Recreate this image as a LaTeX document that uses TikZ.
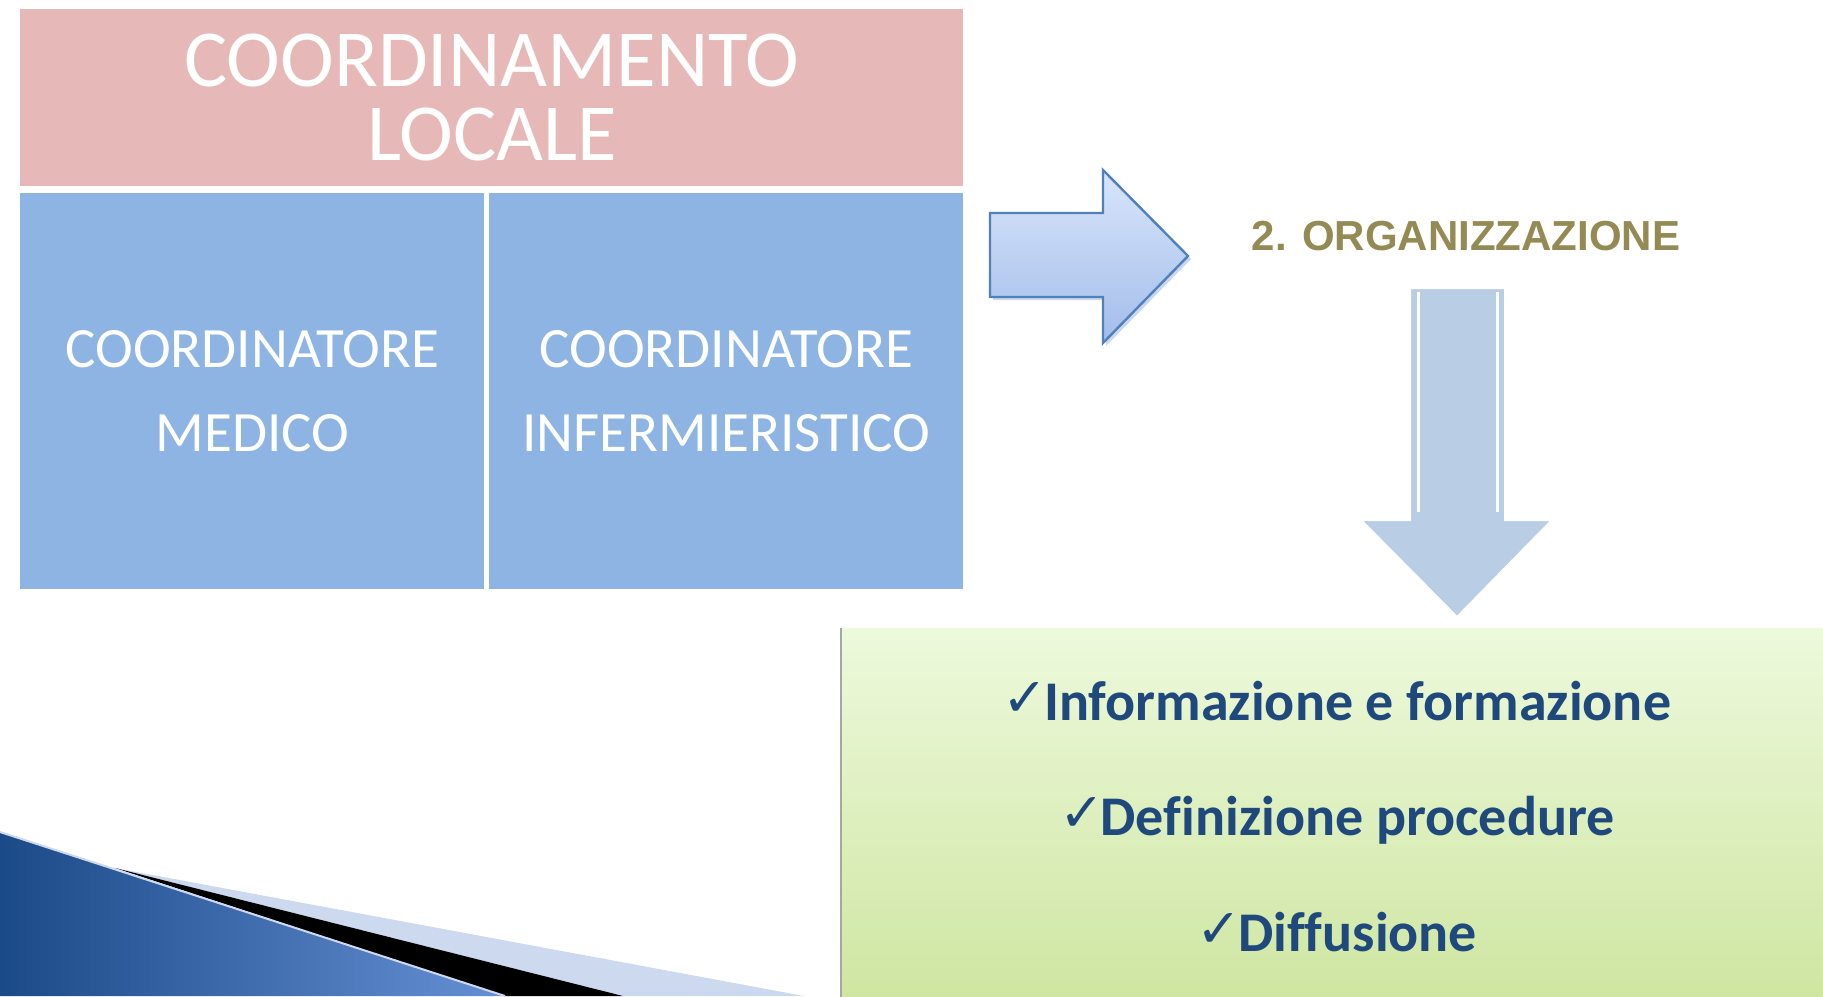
\documentclass[tikz,border=0pt]{standalone}
\usepackage{fontspec}
\setmainfont{Carlito}[Ligatures=NoCommon]
\newfontfamily\headfont{Liberation Sans}
\newfontfamily\tickfont{DejaVu Sans}
\usetikzlibrary{positioning}

\definecolor{rosebox}{HTML}{E6B9B8}
\definecolor{skybox}{HTML}{8EB4E3}
\definecolor{olivetext}{HTML}{948A54}
\definecolor{navytext}{HTML}{1F497D}
\definecolor{arrowline}{HTML}{4F81BD}
\definecolor{arrowtop}{HTML}{D9E5FB}
\definecolor{arrowbot}{HTML}{A3BDEA}
\definecolor{downfill}{HTML}{B9CDE5}
\definecolor{greentop}{HTML}{EDF9DC}
\definecolor{greenbot}{HTML}{CFE6A2}
\definecolor{swooshdark}{HTML}{1B4A88}
\definecolor{swooshlight}{HTML}{6690D4}
\definecolor{hatchblue}{HTML}{CCD9EF}

\newcommand{\tick}{\raisebox{2pt}{\tickfont\fontsize{27}{27}\selectfont ✓}\kern-2pt}

\begin{document}
\begin{tikzpicture}[x=0.5pt,y=-0.5pt,
    cell/.style={inner sep=0pt, text=white, align=center, anchor=north west},
    task/.style={anchor=base, text=navytext, font=\bfseries\fontsize{28}{28}\selectfont}]
        \useasboundingbox (0,0) rectangle (1823,996);
        \fill[white] (0,0) rectangle (1823,996);

        \node[cell, fill=rosebox, minimum width=471.5pt, minimum height=88.5pt,
              font=\fontsize{40.5}{37}\selectfont] (locale) at (20,9) {COORDINAMENTO\\LOCALE};
        \node[cell, fill=skybox, minimum width=232pt, minimum height=198pt,
              font=\fontsize{28.5}{42}\selectfont] (medico) at (20,193) {COORDINATORE\\MEDICO};
        \node[cell, fill=skybox, minimum width=237pt, minimum height=198pt,
              font=\fontsize{28.5}{42}\selectfont] (inferm) at (489,193) {COORDINATORE\\INFERMIERISTICO};

        \fill[arrowline!60, opacity=0.5] (993,216) -- (1106,216) -- (1106,173) -- (1191,259)
              -- (1106,346) -- (1106,300) -- (993,300) -- cycle;
        \shade[top color=arrowtop, bottom color=arrowbot, draw=arrowline, line width=1.2pt]
              (990,213) -- (1103,213) -- (1103,170) -- (1188,256) -- (1103,343)
              -- (1103,297) -- (990,297) -- cycle;

        \node[font=\headfont\bfseries\fontsize{21}{25}\selectfont, text=olivetext] (org) at (1466,236) {2. ORGANIZZAZIONE};

        \fill[downfill, draw=white, line width=1pt] (1410,288) -- (1505,288) -- (1505,520) -- (1552,520)
              -- (1457,617) -- (1361,520) -- (1410,520) -- cycle;
        \draw[white, line width=1.5pt] (1418,292) -- (1418,512);
        \draw[white, line width=1.5pt] (1497,292) -- (1497,512);

        \node[top color=greentop, bottom color=greenbot, minimum width=491pt, minimum height=184pt,
              inner sep=0pt, anchor=north west] (tasks) at (841,628) {};
        \draw[gray!70, line width=0.6pt] (tasks.north west) -- (tasks.south west);

        \node[task] (info) at (1337,720) {\tick Informazione e formazione};
        \node[task] (proc) at (1337,835) {\tick Definizione procedure};
        \node[task] (diff) at (1337,951) {\tick Diffusione};

        \fill[hatchblue] (115,868) -- (804,996) -- (623,996) -- cycle;
        \fill[black] (115,868) -- (623,996) -- (505,996) -- cycle;
        \shade[left color=swooshdark, right color=swooshlight] (0,832) -- (505,996) -- (0,996) -- cycle;
        \draw[hatchblue, line width=1pt] (0,832) -- (505,996);
\end{tikzpicture}
\end{document}
